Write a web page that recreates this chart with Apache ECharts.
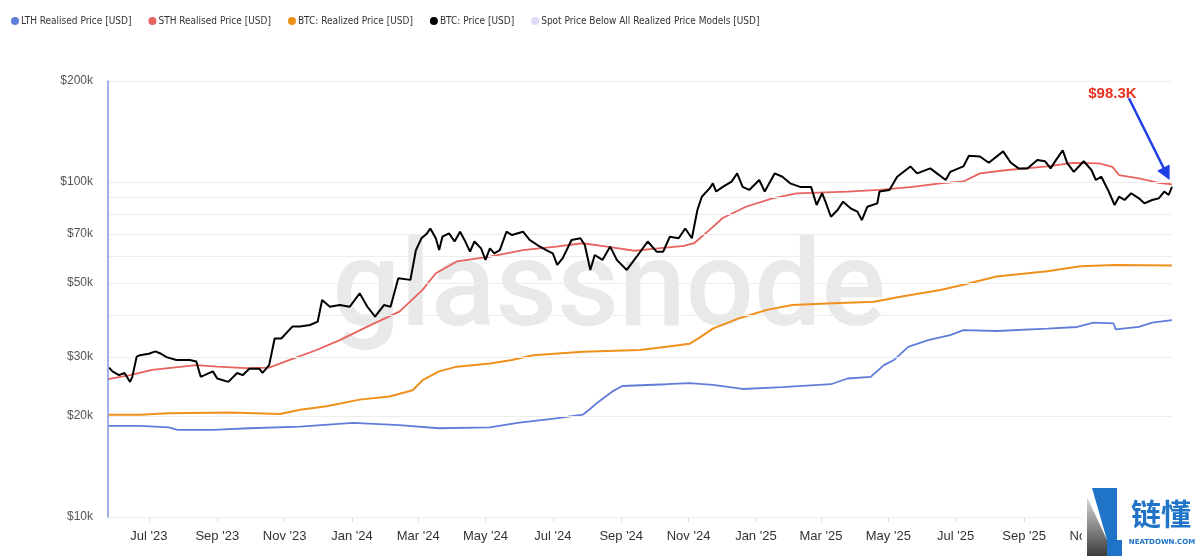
<!DOCTYPE html>
<html>
<head>
<meta charset="utf-8">
<script src="https://cdn.jsdelivr.net/npm/echarts@6/dist/echarts.min.js"></script>
<style>
  html, body { margin: 0; padding: 0; background: #fff; }
  #chart { width: 1200px; height: 557px; }
</style>
</head>
<body>
<div id="chart"></div>
<script>
// BTC: Price [USD]
const priceDates = ['2023-05-26','2023-05-29','2023-06-04','2023-06-09','2023-06-14','2023-06-16','2023-06-20','2023-06-23','2023-07-01','2023-07-07','2023-07-12','2023-07-17','2023-07-26','2023-08-07','2023-08-13','2023-08-17','2023-08-28','2023-09-01','2023-09-11','2023-09-19','2023-09-24','2023-09-30','2023-10-09','2023-10-12','2023-10-18','2023-10-23','2023-10-29','2023-11-08','2023-11-15','2023-11-24','2023-12-01','2023-12-05','2023-12-12','2023-12-21','2023-12-30','2024-01-08','2024-01-15','2024-01-22','2024-01-30','2024-02-05','2024-02-12','2024-02-23','2024-02-28','2024-03-04','2024-03-09','2024-03-12','2024-03-17','2024-03-20','2024-03-23','2024-03-29','2024-04-03','2024-04-08','2024-04-12','2024-04-17','2024-04-21','2024-04-27','2024-05-01','2024-05-05','2024-05-09','2024-05-14','2024-05-20','2024-05-25','2024-06-04','2024-06-10','2024-06-17','2024-06-25','2024-07-01','2024-07-05','2024-07-10','2024-07-18','2024-07-26','2024-07-30','2024-08-04','2024-08-08','2024-08-15','2024-08-22','2024-08-28','2024-09-06','2024-09-15','2024-09-25','2024-10-03','2024-10-09','2024-10-15','2024-10-23','2024-10-29','2024-11-04','2024-11-09','2024-11-13','2024-11-20','2024-11-23','2024-11-26','2024-12-02','2024-12-10','2024-12-15','2024-12-20','2024-12-26','2025-01-04','2025-01-09','2025-01-18','2025-01-25','2025-02-01','2025-02-10','2025-02-20','2025-02-25','2025-03-02','2025-03-05','2025-03-10','2025-03-16','2025-03-21','2025-03-28','2025-04-03','2025-04-07','2025-04-12','2025-04-21','2025-04-23','2025-05-02','2025-05-09','2025-05-21','2025-05-27','2025-06-08','2025-06-14','2025-06-22','2025-06-26','2025-07-08','2025-07-13','2025-07-23','2025-07-31','2025-08-13','2025-08-20','2025-08-27','2025-09-04','2025-09-13','2025-09-20','2025-09-25','2025-09-30','2025-10-06','2025-10-10','2025-10-16','2025-10-25','2025-11-01','2025-11-05','2025-11-10','2025-11-16','2025-11-22','2025-11-26','2025-12-01','2025-12-07','2025-12-14','2025-12-19','2025-12-26','2026-01-01','2026-01-06','2026-01-10','2026-01-13'];
const priceValues = [27900,27200,26500,26900,25300,26200,30100,30400,30700,31200,30700,30000,29400,29400,29100,26200,27200,25900,25300,26900,26500,27700,27700,26900,28400,34100,34100,37000,37000,37400,38300,44400,42400,42900,42400,46500,42400,39600,42900,42400,51600,51000,62600,67900,70200,72600,67900,62600,68600,70200,66400,71000,67100,61900,66400,63300,58500,63300,61200,62600,71000,69400,71000,67100,64800,62600,61200,56500,59200,67100,67900,64800,54600,60500,58500,64100,58500,54600,59800,66400,61900,61900,68600,67900,72600,67900,82400,90300,95600,99000,93600,96600,100200,106000,96600,94600,101300,93600,106000,103600,99000,96600,96600,85300,92500,87300,78700,82400,87300,83300,81500,76900,84300,86300,93600,94600,103600,111200,106000,109700,106000,101300,107100,111200,119600,119100,114000,123300,114000,109700,109700,116300,115200,109700,116300,124200,114000,107100,115200,108500,101300,103600,94600,85300,90300,88300,92500,89300,86300,88300,89300,93600,91400,96600];

// LTH Realised Price [USD]
const lthDates = ['2023-05-25','2023-06-23','2023-07-19','2023-07-27','2023-08-28','2023-09-30','2023-11-15','2024-01-02','2024-02-13','2024-03-20','2024-05-05','2024-05-30','2024-07-04','2024-07-28','2024-08-03','2024-08-10','2024-08-24','2024-09-02','2024-10-12','2024-11-02','2024-11-23','2024-12-20','2025-01-25','2025-03-10','2025-03-25','2025-04-15','2025-04-27','2025-05-06','2025-05-19','2025-06-06','2025-06-26','2025-07-08','2025-08-07','2025-09-22','2025-10-19','2025-11-03','2025-11-21','2025-11-23','2025-12-14','2025-12-26','2026-01-13'];
const lthValues = [18700,18700,18500,18200,18200,18400,18600,19100,18800,18400,18500,19100,19700,20200,20900,21900,23700,24600,24900,25100,24800,24100,24400,24900,25900,26200,28400,29400,32200,33700,34900,36100,35900,36500,36900,38000,37800,36300,36900,38000,38700];

// STH Realised Price [USD]
const sthDates = ['2023-05-25','2023-06-14','2023-07-04','2023-08-13','2023-09-01','2023-09-27','2023-10-18','2023-11-05','2023-11-30','2023-12-21','2024-01-15','2024-02-13','2024-03-05','2024-03-17','2024-04-05','2024-05-05','2024-06-04','2024-07-04','2024-07-28','2024-08-19','2024-09-13','2024-10-04','2024-10-28','2024-11-06','2024-11-20','2024-12-02','2024-12-23','2025-01-16','2025-02-07','2025-03-25','2025-04-23','2025-05-23','2025-06-17','2025-07-08','2025-07-23','2025-08-17','2025-09-22','2025-10-15','2025-11-08','2025-11-20','2025-11-26','2025-12-14','2026-01-01','2026-01-13'];
const sthValues = [25800,26500,27500,28400,28100,27800,27900,29400,31500,33700,37000,41000,47600,53400,57900,59800,62600,64100,65600,64100,62300,63300,64400,65600,71900,78000,84300,89300,92400,93500,94600,96600,99000,100300,106000,108500,111200,114000,113600,110900,104800,102400,99400,98300];

// BTC: Realized Price [USD]
const rpDates = ['2023-05-25','2023-06-23','2023-07-19','2023-09-12','2023-10-28','2023-11-15','2023-12-09','2024-01-08','2024-02-04','2024-02-25','2024-03-05','2024-03-20','2024-04-05','2024-05-05','2024-05-25','2024-06-13','2024-07-28','2024-09-18','2024-10-12','2024-11-02','2024-11-11','2024-11-23','2024-12-17','2025-01-11','2025-02-03','2025-03-12','2025-04-18','2025-05-12','2025-06-17','2025-07-08','2025-08-07','2025-09-22','2025-10-22','2025-11-22','2026-01-13'];
const rpValues = [20200,20200,20400,20500,20300,20900,21400,22400,22900,23900,25600,27200,28100,28700,29400,30400,31100,31500,32200,32900,34300,36500,39200,41500,42900,43400,43900,45400,47600,49300,52200,54100,56000,56500,56300];

// axes
const monthNames = ['Jan','Feb','Mar','Apr','May','Jun','Jul','Aug','Sep','Oct','Nov','Dec'];
const yGridValues = [10000,20000,30000,40000,50000,60000,70000,80000,90000,100000,200000];
const yGridLabels = ['$10k','$20k','$30k','','$50k','','$70k','','','$100k','$200k'];

// annotation
const lastSth = 98300;
const arrowFrom = ['2025-12-05', 177700];
const arrowTo = ['2026-01-08', 105700];
const noteAt = ['2025-11-20', 182900];

const names = ['LTH Realised Price [USD]','STH Realised Price [USD]','BTC: Realized Price [USD]','BTC: Price [USD]','Spot Price Below All Realized Price Models [USD]'];

function zip(d, v){ return d.map((x, i) => [x, v[i]]) }

const DAY = 24 * 3600 * 1000;
const chart = echarts.init(document.getElementById('chart'));

chart.setOption({
    animation: false,
    backgroundColor: '#fff',
    textStyle: { fontFamily: "'Liberation Sans', Arial, sans-serif" },
    legend: {
        data: names,
        left: 11,
        top: 16,
        padding: 0,
        icon: 'circle',
        itemWidth: 8,
        itemHeight: 8,
        itemGap: 17,
        textStyle: { fontSize: 10, color: '#333', fontFamily: "'DejaVu Sans Condensed', sans-serif", padding: [0,0,0,-3] },
    },
    grid: { left: 108, right: 28, top: 81, bottom: 40, containLabel: false },
    xAxis: {
        type: 'time',
        min: '2023-05-25',
        max: '2026-01-13',
        splitNumber: 16,
        minInterval: 50 * DAY,
        maxInterval: 70 * DAY,
        splitLine: { show: false },
        axisLine: { onZero: false, lineStyle: { color: '#e3e3e3' } },
        axisTick: { show: true, length: 5, lineStyle: { color: '#e0e0e0' } },
        axisLabel: {
            color: '#333',
            fontSize: 13,
            margin: 13,
            hideOverlap: false,
            formatter: function(v){
                const d = new Date(v)
                return monthNames[d.getMonth()] + " '" + String(d.getFullYear()).slice(2)
            }
        },
    },
    yAxis: {
        type: 'log',
        logBase: 10,
        min: 10000,
        max: 200000,
        z: 10,
        axisLabel: { show: false },
        axisTick: { show: false },
        splitLine: { show: false },
        axisLine: { show: true, lineStyle: { color: '#7f95df', width: 1.5 } },
    },
    graphic: [
        { type: 'text', z: 0, silent: true, style: { text: 'glassnode', x: 609, y: 295, fill: '#e9e9e9', fontSize: 120, fontWeight: 500, fontFamily: 'Roboto', align: 'center', verticalAlign: 'middle' } },
        { type: 'rect', z: 100, silent: true, shape: { x: 1082, y: 486, width: 118, height: 71 }, style: { fill: '#fff' } },
        { type: 'polygon', z: 101, silent: true, shape: { points: [[1087,497],[1107,540],[1107,556],[1087,556]] },
          style: { fill: new echarts.graphic.LinearGradient(0, 0, 0, 1, [{ offset: 0, color: '#d8d8d8' }, { offset: 1, color: '#3c3c3c' }]) } },
        { type: 'polygon', z: 102, silent: true, shape: { points: [[1092,488],[1117,488],[1117,540],[1122,540],[1122,556],[1107,556],[1107,540]] }, style: { fill: '#1f74c8' } },
        { type: 'text', z: 102, silent: true, style: { text: '链懂', x: 1161, y: 514, fill: '#1f74c8', fontSize: 30, fontWeight: 'bold', fontFamily: "'Noto Sans CJK SC'", align: 'center', verticalAlign: 'middle' } },
        { type: 'text', z: 102, silent: true, style: { text: 'NEATDOWN.COM', x: 1162, y: 542, fill: '#1f74c8', fontSize: 7, fontWeight: 'bold', fontFamily: 'DejaVu Sans', align: 'center', verticalAlign: 'middle' } },
    ],
    series: [
        {
            name: names[0],
            type: 'line',
            data: zip(lthDates, lthValues),
            symbol: 'none',
            color: '#5f7dd9',
            lineStyle: { width: 1.8 },
            z: 3,
            markLine: {
                silent: true,
                symbol: ['none', 'none'],
                lineStyle: { color: '#ededed', width: 1, type: 'solid' },
                label: { position: 'start', distance: 15, color: '#555', fontSize: 12 },
                emphasis: { disabled: true },
                data: yGridValues.map((v, i) => ({
                    yAxis: v,
                    label: { show: yGridLabels[i] !== '', formatter: yGridLabels[i] }
                }))
            }
        },
        {
            name: names[1],
            type: 'line',
            data: zip(sthDates, sthValues),
            symbol: 'none',
            color: '#e8625e',
            lineStyle: { width: 1.8 },
            z: 4,
            markLine: {
                silent: true,
                symbol: ['none', 'triangle'],
                symbolSize: 14,
                lineStyle: { color: '#1f3ee6', width: 2.5, type: 'solid' },
                itemStyle: { color: '#1f3ee6' },
                label: { show: false },
                emphasis: { disabled: true },
                data: [[{ coord: arrowFrom }, { coord: arrowTo }]]
            },
            markPoint: {
                silent: true,
                symbol: 'circle',
                symbolSize: 1,
                itemStyle: { color: 'rgba(0,0,0,0)' },
                label: { show: true, position: 'inside', formatter: '$' + (lastSth / 1000).toFixed(1) + 'K', color: '#e8321e', fontSize: 15, fontWeight: 'bold', fontFamily: "'Liberation Sans', Arial, sans-serif" },
                data: [{ coord: noteAt }]
            }
        },
        {
            name: names[2],
            type: 'line',
            data: zip(rpDates, rpValues),
            symbol: 'none',
            color: '#f0901c',
            lineStyle: { width: 2 },
            z: 3,
        },
        {
            name: names[3],
            type: 'line',
            data: zip(priceDates, priceValues),
            symbol: 'none',
            color: '#000000',
            lineStyle: { width: 2 },
            z: 5,
        },
        {
            name: names[4],
            type: 'line',
            data: [],
            symbol: 'none',
            color: '#dcd9f5',
        },
    ]
});
</script>
</body>
</html>
